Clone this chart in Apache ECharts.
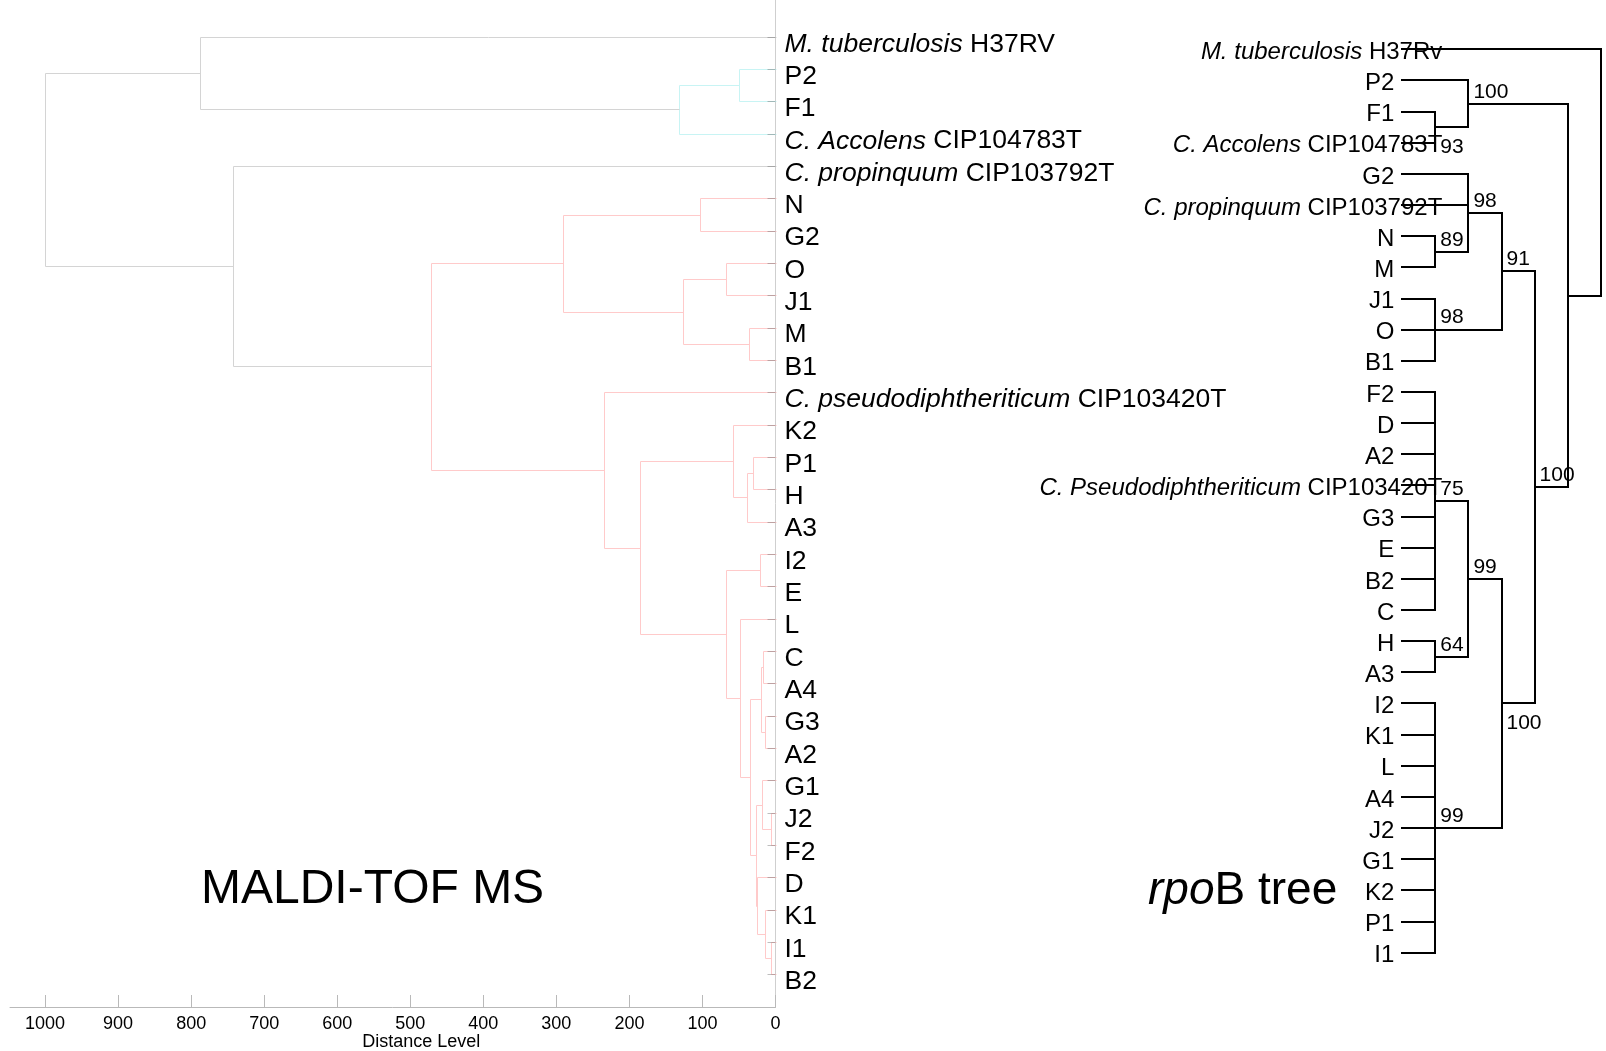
<!DOCTYPE html>
<html>
<head>
<meta charset="utf-8">
<script src="https://cdn.jsdelivr.net/npm/echarts@6/dist/echarts.min.js"></script>
<style>
  html, body { margin: 0; padding: 0; background: #ffffff; }
  #chart { width: 1606px; height: 1051px; }
</style>
</head>
<body>
<div id="chart"></div>
<script>
// ---------- MALDI-TOF MS dendrogram ----------
// leaves, top to bottom
const maldiLeaves = [
  'M. tuberculosis H37RV', 'P2', 'F1', 'C. Accolens CIP104783T',
  'C. propinquum CIP103792T', 'N', 'G2', 'O', 'J1', 'M', 'B1',
  'C. pseudodiphtheriticum CIP103420T', 'K2', 'P1', 'H', 'A3', 'I2', 'E',
  'L', 'C', 'A4', 'G3', 'A2', 'G1', 'J2', 'F2', 'D', 'K1', 'I1', 'B2'
];
// merge steps: [id, first child, second child, distance level]
const maldiMerges = [
  ['m1', 'P2', 'F1', 49.5],
  ['m2', 'm1', 'C. Accolens CIP104783T', 132.6],
  ['m3', 'M. tuberculosis H37RV', 'm2', 788],
  ['m4', 'N', 'G2', 104],
  ['m5', 'O', 'J1', 68.4],
  ['m6', 'M', 'B1', 35.6],
  ['m7', 'm5', 'm6', 127],
  ['m8', 'm4', 'm7', 290.5],
  ['m9', 'P1', 'H', 31.2],
  ['m10', 'm9', 'A3', 38.6],
  ['m11', 'K2', 'm10', 57.7],
  ['m12', 'I2', 'E', 21.2],
  ['m13', 'C', 'A4', 16.7],
  ['m14', 'G3', 'A2', 14.8],
  ['m15', 'm13', 'm14', 20.3],
  ['m16', 'J2', 'F2', 6.6],
  ['m17', 'G1', 'm16', 18],
  ['m18', 'I1', 'B2', 6.6],
  ['m19', 'K1', 'm18', 14.8],
  ['m20', 'D', 'm19', 25.3],
  ['m21', 'm17', 'm20', 26.2],
  ['m22', 'm15', 'm21', 35.3],
  ['m23', 'L', 'm22', 48.6],
  ['m24', 'm12', 'm23', 67.3],
  ['m25', 'm11', 'm24', 185],
  ['m26', 'C. pseudodiphtheriticum CIP103420T', 'm25', 234.7],
  ['m27', 'm8', 'm26', 471.5],
  ['m28', 'C. propinquum CIP103792T', 'm27', 743],
  ['m29', 'm3', 'm28', 1000]
];
const distanceTicks = [0, 100, 200, 300, 400, 500, 600, 700, 800, 900, 1000];
const colorThreshold = 600;

// ---------- rpoB tree ----------
const rpobLeaves = [
  'M. tuberculosis H37Rv', 'P2', 'F1', 'C. Accolens CIP104783T', 'G2',
  'C. propinquum CIP103792T', 'N', 'M', 'J1', 'O', 'B1', 'F2', 'D', 'A2',
  'C. Pseudodiphtheriticum CIP103420T', 'G3', 'E', 'B2', 'C', 'H', 'A3',
  'I2', 'K1', 'L', 'A4', 'J2', 'G1', 'K2', 'P1', 'I1'
];
// clades: [id, children, bootstrap support]
const rpobClades = [
  ['c1', ['F1', 'C. Accolens CIP104783T'], 93],
  ['c2', ['P2', 'c1'], 100],
  ['c3', ['N', 'M'], 89],
  ['c4', ['G2', 'C. propinquum CIP103792T', 'c3'], 98],
  ['c5', ['J1', 'O', 'B1'], 98],
  ['c6', ['c4', 'c5'], 91],
  ['c7', ['F2', 'D', 'A2', 'C. Pseudodiphtheriticum CIP103420T', 'G3', 'E', 'B2', 'C'], 75],
  ['c8', ['H', 'A3'], 64],
  ['c9', ['c7', 'c8'], 99],
  ['c10', ['I2', 'K1', 'L', 'A4', 'J2', 'G1', 'K2', 'P1', 'I1'], 99],
  ['c11', ['c9', 'c10'], 100],
  ['c12', ['c6', 'c11'], 100],
  ['c13', ['c2', 'c12'], null],
  ['root', ['M. tuberculosis H37Rv', 'c13'], null]
];

// ---------- styling ----------
const FONT = '"Liberation Sans", Arial, Helvetica, sans-serif';
const clusterPalette = ['#c8f4f4', '#ffcaca'];
const aboveThresholdColor = '#d4d4d4';
const supportBelow = new Set(['c1', 'c11']);

// species names: genus + epithet in italics, strain in roman
function richName(name) {
  const m = name.match(/^([A-Z]\. [A-Za-z]+)( .*)$/);
  return m ? '{i|' + m[1] + '}{r|' + m[2] + '}' : '{r|' + name + '}';
}
function richStyles(size) {
  return {
    i: { fontStyle: 'italic', fontSize: size, fontFamily: FONT, fill: '#000' },
    r: { fontStyle: 'normal', fontSize: size, fontFamily: FONT, fill: '#000' }
  };
}

// ---------- dendrogram layout ----------
const maldiNode = {};
maldiLeaves.forEach((n, i) => { maldiNode[n] = { h: 0, y: i, leaf: true }; });
const parentOf = {};
maldiMerges.forEach(([id, a, b, h]) => {
  const na = maldiNode[a], nb = maldiNode[b];
  maldiNode[id] = { h, y: (na.y + nb.y) / 2, a, b };
  parentOf[a] = id; parentOf[b] = id;
});
// colour clusters formed below the threshold, ordered top to bottom
const clusterRoots = maldiMerges
  .filter(([id, , , h]) => h < colorThreshold && (!parentOf[id] || maldiNode[parentOf[id]].h >= colorThreshold))
  .map(([id]) => id)
  .sort((p, q) => maldiNode[p].y - maldiNode[q].y);
const mergeColor = {};
clusterRoots.forEach((id, k) => {
  const stack = [id];
  while (stack.length) {
    const cur = stack.pop();
    const nd = maldiNode[cur];
    if (nd.leaf) continue;
    mergeColor[cur] = clusterPalette[k % clusterPalette.length];
    stack.push(nd.a, nd.b);
  }
});
const maldiLinks = maldiMerges.map(([id, a, b, h]) => {
  const na = maldiNode[a], nb = maldiNode[b];
  return { value: [na.h, na.y, h, nb.y, nb.h], color: mergeColor[id] || aboveThresholdColor };
});

// ---------- rpoB cladogram layout ----------
const rpobPos = {};
rpobLeaves.forEach((n, i) => { rpobPos[n] = { x: 0, y: i }; });
const rpobSegments = [];
const rpobSupport = [];
rpobClades.forEach(([id, kids, support]) => {
  const ps = kids.map(k => rpobPos[k]);
  const ys = ps.map(p => p.y);
  const x = Math.max(...ps.map(p => p.x)) + 1;
  const y0 = Math.min(...ys), y1 = Math.max(...ys);
  rpobPos[id] = { x, y: (y0 + y1) / 2 };
  ps.forEach(p => rpobSegments.push([p.x, p.y, x, p.y]));
  rpobSegments.push([x, y0, x, y1]);
  if (support != null) rpobSupport.push({ value: [x, (y0 + y1) / 2], name: String(support), below: supportBelow.has(id) });
});

const snap = v => Math.round(v) + 0.5;

const option = {
  animation: false,
  backgroundColor: '#ffffff',
  grid: [
    { left: 10, top: 0, width: 765.5, height: 1007, containLabel: false, outerBoundsMode: 'none' },
    { left: 1402.3, top: 49.3, width: 198.4, height: 903.4, containLabel: false, outerBoundsMode: 'none' }
  ],
  xAxis: [
    {
      gridIndex: 0, type: 'value', inverse: true, min: 0, max: 1048,
      position: 'bottom',
      axisLine: { show: true, onZero: false, lineStyle: { color: '#b9b9b9', width: 1 } },
      axisTick: { show: true, inside: true, length: 12, customValues: distanceTicks, lineStyle: { color: '#b9b9b9' } },
      axisLabel: {
        show: true, customValues: distanceTicks, margin: 8, color: '#000', fontSize: 18, fontFamily: FONT,
        formatter: v => String(v)
      },
      splitLine: { show: false },
      name: 'Distance Level', nameLocation: 'middle', nameGap: 26, nameMoveOverlap: false,
      nameTextStyle: { color: '#000', fontSize: 18, fontFamily: FONT, padding: [0, 0, 0, 57] }
    },
    {
      gridIndex: 1, type: 'value', min: 0, max: 6, show: false
    }
  ],
  yAxis: [
    {
      gridIndex: 0, type: 'value', inverse: true, min: -1.135, max: 30.012,
      position: 'right',
      axisLine: { show: true, onZero: false, lineStyle: { color: '#cfcfcf', width: 1 } },
      axisTick: { show: false }, axisLabel: { show: false }, splitLine: { show: false }
    },
    {
      gridIndex: 1, type: 'value', inverse: true, min: 0, max: 29, show: false
    }
  ],
  graphic: [
    {
      type: 'text', left: 201, top: 866, silent: true,
      style: { text: 'MALDI-TOF MS', fontSize: 48, fontFamily: FONT, fill: '#000' }
    },
    {
      type: 'text', left: 1148, top: 868, silent: true,
      style: {
        text: '{i|rpo}{r|B tree}', fontSize: 46, fontFamily: FONT, fill: '#000',
        rich: richStyles(46)
      }
    }
  ],
  series: [
    // dendrogram branches
    {
      type: 'custom', xAxisIndex: 0, yAxisIndex: 0,
      data: maldiLinks,
      renderItem(params, api) {
        const a = api.coord([api.value(0), api.value(1)]);
        const m1 = api.coord([api.value(2), api.value(1)]);
        const m2 = api.coord([api.value(2), api.value(3)]);
        const b = api.coord([api.value(4), api.value(3)]);
        const pts = [a, m1, m2, b].map(p => [snap(p[0]), snap(p[1])]);
        return {
          type: 'polyline', shape: { points: pts },
          style: { stroke: maldiLinks[params.dataIndex].color, lineWidth: 1, fill: null }
        };
      }
    },
    // leaf ends and leaf names
    {
      type: 'custom', xAxisIndex: 0, yAxisIndex: 0, z: 3,
      data: maldiLeaves.map((n, i) => ({ value: [0, i], name: n })),
      renderItem(params, api) {
        const p = api.coord([0, api.value(1)]);
        const name = maldiLeaves[params.dataIndex];
        return {
          type: 'group',
          children: [
            {
              type: 'line',
              shape: { x1: p[0] - 8, y1: snap(p[1]), x2: p[0], y2: snap(p[1]) },
              style: { stroke: 'rgba(110,110,110,0.45)', lineWidth: 1 }
            },
            {
              type: 'text',
              style: {
                x: p[0] + 9, y: p[1] + 7.5, text: richName(name), rich: richStyles(26.5),
                fontSize: 26.5, fontFamily: FONT, fill: '#000', align: 'left', verticalAlign: 'middle'
              }
            }
          ]
        };
      }
    },
    // rpoB tree branches
    {
      type: 'custom', xAxisIndex: 1, yAxisIndex: 1,
      data: rpobSegments,
      renderItem(params, api) {
        const p = api.coord([api.value(0), api.value(1)]);
        const q = api.coord([api.value(2), api.value(3)]);
        return {
          type: 'line',
          shape: { x1: Math.round(p[0]), y1: Math.round(p[1]), x2: Math.round(q[0]), y2: Math.round(q[1]) },
          style: { stroke: '#000', lineWidth: 2, lineCap: 'square' }
        };
      }
    },
    // rpoB leaf names
    {
      type: 'custom', xAxisIndex: 1, yAxisIndex: 1, z: 3,
      data: rpobLeaves.map((n, i) => ({ value: [0, i], name: n })),
      renderItem(params, api) {
        const p = api.coord([0, api.value(1)]);
        const name = rpobLeaves[params.dataIndex];
        const species = /^[A-Z]\. /.test(name);
        return {
          type: 'text',
          style: {
            x: p[0] + (species ? 40 : -8), y: p[1] + 3, text: richName(name), rich: richStyles(24),
            fontSize: 24, fontFamily: FONT, fill: '#000', align: 'right', verticalAlign: 'middle'
          }
        };
      }
    },
    // bootstrap support values
    {
      type: 'custom', xAxisIndex: 1, yAxisIndex: 1, z: 3,
      data: rpobSupport,
      renderItem(params, api) {
        const p = api.coord([api.value(0), api.value(1)]);
        const s = rpobSupport[params.dataIndex];
        return {
          type: 'text',
          style: {
            x: p[0] + 5, y: p[1] + (s.below ? 20 : -12), text: s.name,
            fontSize: 21, fontFamily: FONT, fill: '#000', align: 'left', verticalAlign: 'middle'
          }
        };
      }
    }
  ]
};

const chart = echarts.init(document.getElementById('chart'), null, { renderer: 'canvas' });
chart.setOption(option);
</script>
</body>
</html>
